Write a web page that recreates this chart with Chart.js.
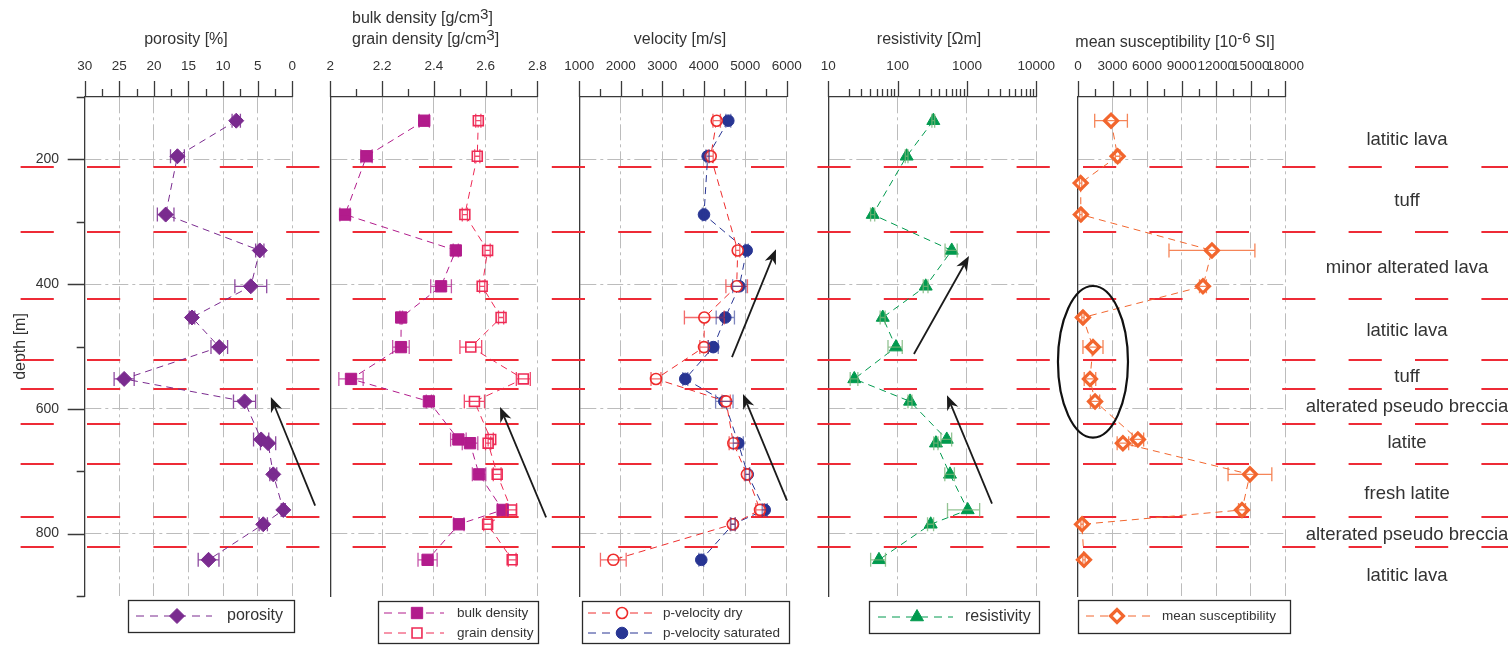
<!DOCTYPE html>
<html><head><meta charset="utf-8">
<script src="https://cdn.jsdelivr.net/npm/chart.js@4.4.0/dist/chart.umd.min.js"></script>
<style>
html,body{margin:0;padding:0;background:#fff;}
#wrap{position:relative;width:1508px;height:646px;overflow:hidden;background:#fff;}
#wrap canvas{position:absolute;left:0;top:0;}
</style></head><body>
<div id="wrap">
<canvas id="c1" width="1508" height="646"></canvas>
<canvas id="c2" width="1508" height="646"></canvas>
<canvas id="c3" width="1508" height="646"></canvas>
<canvas id="c4" width="1508" height="646"></canvas>
<canvas id="c5" width="1508" height="646"></canvas>
</div>
<script>
// ---------------- data ----------------
const depths          = [138, 195, 238, 288.5, 346, 403.5, 453.5, 501, 552, 588, 649, 655, 705, 762, 785, 842];
const porosity        = [8.1, 16.6, null, 18.3, 4.7, 6.0, 14.5, 10.55, 24.3, 6.9, 4.5, 3.5, 2.75, 1.3, 4.2, 12.1];
const porosityErr     = [0.6, 1.0, null, 1.2, 0.6, 2.3, 0.4, 1.2, 1.45, 1.6, 1.1, 1.1, 0.5, 0.3, 0.6, 1.5];
const bulkDensity     = [2.363, 2.14, null, 2.057, 2.485, 2.428, 2.274, 2.273, 2.08, 2.381, 2.495, 2.54, 2.575, 2.666, 2.497, 2.376];
const bulkDensityErr  = [0.02, 0.022, null, 0.02, 0.01, 0.04, 0.005, 0.032, 0.047, 0.01, 0.03, 0.03, 0.026, 0.02, 0.02, 0.037];
const grainDensity    = [2.572, 2.568, null, 2.52, 2.608, 2.587, 2.66, 2.543, 2.746, 2.557, 2.62, 2.61, 2.645, 2.70, 2.608, 2.703];
const grainDensityErr = [0.01, 0.01, null, 0.01, 0.01, 0.01, 0.01, 0.042, 0.027, 0.039, 0.01, 0.01, 0.015, 0.02, 0.015, 0.015];
const velocityDry     = [4312, 4168, null, null, 4819, 4794, 4014, 4006, 2849, 4540, null, 4713, 5040, 5357, 4700, 1820];
const velocityDryErr  = [90, 60, null, null, 50, 260, 480, 100, 120, 100, null, 100, 60, 100, 60, 310];
const velocitySat     = [4592, 4095, null, 4006, 5035, 4857, 4520, 4230, 3555, 4496, null, 4833, 5060, 5470, 4706, 3941];
const velocitySatErr  = [60, 40, null, 40, 40, 160, 220, 120, 60, 210, null, 120, 50, 60, 50, 60];
const resistivity     = [327, 135, null, 43.7, 603, 254, 61, 94.6, 23.7, 151, 511, 357, 569, 1024, 300, 53.8];
const resistivityErr  = [15, 6, null, 3, 120, 20, 5, 22, 3, 10, 90, 25, 90, 500, 30, 13];
const susceptibility    = [2870, 3440, 230, 250, 11630, 10850, 430, 1300, 1040, 1480, 5200, 3900, 14930, 14240, 350, 520];
const susceptibilityErr = [1420, 200, 100, 100, 3730, 300, 100, 870, 500, 400, 500, 500, 1900, 300, 100, 100];

const layerBoundaries = [213, 317, 424, 522, 568, 624, 688, 774, 821];
const lithology   = ['latitic lava', 'tuff', 'minor alterated lava', 'latitic lava', 'tuff',
                     'alterated pseudo breccia', 'latite', 'fresh latite', 'alterated pseudo breccia', 'latitic lava'];
const lithologyDepth = [168, 267, 374, 475, 549, 597, 654, 736, 802, 867];

const depthTicks = [200, 400, 600, 800];
const depthMinor = [100, 300, 500, 700, 900];
const porosityTicks = [0, 5, 10, 15, 20, 25, 30];
const porosityMinor = [2.5, 7.5, 12.5, 17.5, 22.5, 27.5];
const densityTicks = [2, 2.2, 2.4, 2.6, 2.8];
const densityMinor = [2.1, 2.3, 2.5, 2.7];
const velocityTicks = [1000, 2000, 3000, 4000, 5000, 6000];
const velocityMinor = [1500, 2500, 3500, 4500, 5500];
const resistivityTicks = [10, 100, 1000, 10000];
const resistivityMinor = [20, 30, 40, 50, 60, 70, 80, 90, 200, 300, 400, 500, 600, 700, 800, 900, 2000, 3000, 4000, 5000, 6000, 7000, 8000, 9000];
const susTicks = [0, 3000, 6000, 9000, 12000, 15000, 18000];
const susMinor = [1500, 4500, 7500, 10500, 13500, 16500];

// annotations in data coordinates (value, depth)
const arrows = [
  {panel: 0, v1: -3.3, d1: 755, v2: 3.1, d2: 581},
  {panel: 1, v1: 2.834, d1: 774, v2: 2.656, d2: 597},
  {panel: 2, v1: 4681, d1: 517, v2: 5742, d2: 344},
  {panel: 2, v1: 6007, d1: 747, v2: 4946, d2: 576},
  {panel: 3, v1: 172, d1: 512, v2: 1069, d2: 355},
  {panel: 3, v1: 2296, d1: 752, v2: 515, d2: 578}
];
const ellipse = {panel: 4, v1: -1740, v2: 4340, d1: 403, d2: 646};

// ---------------- style ----------------
const FONT = "'Liberation Sans', Arial, Helvetica, sans-serif";
Chart.defaults.font.family = FONT;
Chart.defaults.color = '#333';
const W = 1508, H = 646, TOP = 97, BOTTOM = 596;
const GRID = '#bcbcbc', AXIS = '#3a3a3a', GRID_DASH = [16, 4, 3, 4];
const RED = '#ee2b36';

function series(vals, errs) {
  const out = [];
  depths.forEach((d, i) => { if (vals[i] != null) out.push({x: vals[i], y: d, e: errs ? errs[i] : 0}); });
  return out;
}
function ds(label, vals, errs, color, opts) {
  return Object.assign({
    label, data: series(vals, errs), showLine: true, borderColor: color, backgroundColor: color,
    borderWidth: 1, borderDash: [7, 5], pointBackgroundColor: color, pointBorderColor: color,
    pointBorderWidth: 1, pointRadius: 7, pointHoverRadius: 7, pointStyle: 'circle', clip: false,
    errColor: color
  }, opts);
}

const PURPLE = '#7a2b8f', MAGENTA = '#b21c8c', PINK = '#ee2a55', VRED = '#ee2c2c', NAVY = '#283593', GREEN = '#009a4e', ORANGE = '#f2662e';

const panels = [
  { aL: 84.7, aR: 292.3, seg: [0, 320], showY: true,
    x: {type: 'linear', min: 0, max: 30, reverse: true, majors: porosityTicks, minors: porosityMinor, leftVal: 30},
    title: [{y: 40, x: 186, align: 'center', parts: [{t: 'porosity [%]'}]}],
    legend: {box: [128, 600, 294, 632], lx: [136, 212], mx: 177, tx: 227, rows: [616], font: 16},
    datasets: [ds('porosity', porosity, porosityErr, PURPLE, {pointStyle: 'rectRot', pointRadius: 7.5, errColor: 'rgba(122,43,143,0.85)'})]
  },
  { aL: 330.3, aR: 537.3, seg: [320, 558],
    x: {type: 'linear', min: 2, max: 2.8, reverse: false, majors: densityTicks, minors: densityMinor, leftVal: 2},
    title: [{y: 19, x: 352, align: 'left', parts: [{t: 'bulk density [g/cm'}, {t: '3', sup: true}, {t: ']'}]},
            {y: 40, x: 352, align: 'left', parts: [{t: 'grain density [g/cm'}, {t: '3', sup: true}, {t: ']'}]}],
    legend: {box: [378, 601, 538, 643], lx: [384, 444], mx: 417, tx: 457, rows: [613, 633], font: 13.5},
    datasets: [
      ds('bulk density', bulkDensity, bulkDensityErr, MAGENTA, {pointStyle: 'rect', pointRadius: 8, errColor: 'rgba(178,28,140,0.75)'}),
      ds('grain density', grainDensity, grainDensityErr, PINK, {pointStyle: 'rect', pointRadius: 7, pointBackgroundColor: '#fff', pointBorderWidth: 1.6, errColor: 'rgba(238,42,85,0.85)'})
    ]
  },
  { aL: 579.3, aR: 786.7, seg: [558, 808],
    x: {type: 'linear', min: 1000, max: 6000, reverse: false, majors: velocityTicks, minors: velocityMinor, leftVal: 1000},
    title: [{y: 40, x: 680, align: 'center', parts: [{t: 'velocity [m/s]'}]}],
    legend: {box: [582, 601, 789, 643], lx: [588, 655], mx: 622, tx: 663, rows: [613, 633], font: 13.5},
    datasets: [
      ds('p-velocity dry', velocityDry, velocityDryErr, VRED, {pointStyle: 'circle', pointRadius: 5.5, pointBackgroundColor: '#fff', pointBorderWidth: 1.6, errColor: 'rgba(238,44,44,0.7)'}),
      ds('p-velocity saturated', velocitySat, velocitySatErr, NAVY, {pointStyle: 'circle', pointRadius: 5.8, errColor: 'rgba(40,53,147,0.6)'})
    ]
  },
  { aL: 828.3, aR: 1036.3, seg: [808, 1050],
    x: {type: 'logarithmic', min: 10, max: 10000, reverse: false, majors: resistivityTicks, minors: resistivityMinor, leftVal: 10},
    title: [{y: 40, x: 929, align: 'center', parts: [{t: 'resistivity [\u03A9m]'}]}],
    legend: {box: [869, 601, 1039, 633], lx: [878, 953], mx: 917, tx: 965, rows: [617], font: 16},
    datasets: [ds('resistivity', resistivity, resistivityErr, GREEN, {pointStyle: 'triangle', pointRadius: 7.5, errColor: 'rgba(120,180,120,0.8)'})]
  },
  { aL: 1078, aR: 1285.3, seg: [1050, 1508], labels: true,
    x: {type: 'linear', min: 0, max: 18000, reverse: false, majors: susTicks, minors: susMinor, leftVal: 0},
    title: [{y: 43, x: 1175, align: 'center', parts: [{t: 'mean susceptibility [10'}, {t: '-6', sup: true}, {t: ' SI]'}]}],
    legend: {box: [1078, 600, 1290, 633], lx: [1086, 1150], mx: 1117, tx: 1162, rows: [616], font: 13.5},
    datasets: [ds('mean susceptibility', susceptibility, susceptibilityErr, ORANGE, {pointStyle: 'rectRot', pointRadius: 6.5, pointBackgroundColor: '#fff', pointBorderWidth: 3.2, errColor: 'rgba(242,102,46,0.8)'})]
  }
];

// ---------------- drawing helpers ----------------
function markerPath(ctx, style, x, y, r) {
  ctx.beginPath();
  if (style === 'rectRot') { ctx.moveTo(x - r, y); ctx.lineTo(x, y - r); ctx.lineTo(x + r, y); ctx.lineTo(x, y + r); ctx.closePath(); }
  else if (style === 'rect') { const s = Math.SQRT1_2 * r; ctx.rect(x - s, y - s, 2 * s, 2 * s); }
  else if (style === 'triangle') { ctx.moveTo(x, y - r); ctx.lineTo(x + 0.866 * r, y + 0.5 * r); ctx.lineTo(x - 0.866 * r, y + 0.5 * r); ctx.closePath(); }
  else ctx.arc(x, y, r, 0, Math.PI * 2);
}
function drawRich(ctx, parts, x, y, align, size) {
  ctx.save();
  ctx.fillStyle = '#333'; ctx.textBaseline = 'middle'; ctx.textAlign = 'left';
  let total = 0;
  parts.forEach(p => { ctx.font = (p.sup ? size * 0.95 : size) + 'px ' + FONT; p.w = ctx.measureText(p.t).width; total += p.w; });
  let cx = align === 'center' ? x - total / 2 : x;
  parts.forEach(p => { ctx.font = (p.sup ? size * 0.95 : size) + 'px ' + FONT; ctx.fillText(p.t, cx, p.sup ? y - 4 : y); cx += p.w; });
  ctx.restore();
}
function drawArrow(ctx, x1, y1, x2, y2) {
  ctx.save();
  ctx.strokeStyle = '#1b1b1b'; ctx.fillStyle = '#1b1b1b'; ctx.lineWidth = 1.8; ctx.setLineDash([]);
  const a = Math.atan2(y2 - y1, x2 - x1), L = 15, Wd = 6;
  const bx = x2 - L * Math.cos(a), by = y2 - L * Math.sin(a);
  const nx = x2 - L * 0.7 * Math.cos(a), ny = y2 - L * 0.7 * Math.sin(a);
  ctx.beginPath(); ctx.moveTo(x1, y1); ctx.lineTo(nx, ny); ctx.stroke();
  ctx.beginPath(); ctx.moveTo(x2, y2);
  ctx.lineTo(bx + Wd * Math.sin(a), by - Wd * Math.cos(a));
  ctx.lineTo(nx, ny);
  ctx.lineTo(bx - Wd * Math.sin(a), by + Wd * Math.cos(a));
  ctx.closePath(); ctx.fill();
  ctx.restore();
}

function panelPlugin(p, idx) {
  return {
    id: 'deco' + idx,
    beforeDatasetsDraw(chart) {
      const ctx = chart.ctx, ys = chart.scales.y;
      ctx.save();
      ctx.strokeStyle = RED; ctx.lineWidth = 2;
      ctx.setLineDash([33.2, 33.2]);
      ctx.lineDashOffset = p.seg[0] - 20.6;
      layerBoundaries.forEach(d => {
        const y = Math.round(ys.getPixelForValue(d));
        ctx.beginPath(); ctx.moveTo(p.seg[0], y); ctx.lineTo(p.seg[1], y); ctx.stroke();
      });
      ctx.restore();
    },
    afterDatasetsDraw(chart) {
      const ctx = chart.ctx, xs = chart.scales.x, ys = chart.scales.y;
      chart.data.datasets.forEach((d, di) => {
        const meta = chart.getDatasetMeta(di);
        ctx.save(); ctx.strokeStyle = d.errColor; ctx.lineWidth = 1.3; ctx.setLineDash([]);
        d.data.forEach((pt, j) => {
          if (!pt.e) return;
          const el = meta.data[j], y = el.y;
          let lo = pt.x - pt.e, hi = pt.x + pt.e;
          if (xs.type === 'logarithmic' && lo <= 0) lo = xs.min;
          const x1 = xs.getPixelForValue(lo), x2 = xs.getPixelForValue(hi);
          ctx.beginPath();
          ctx.moveTo(x1, y); ctx.lineTo(x2, y);
          ctx.moveTo(x1, y - 7); ctx.lineTo(x1, y + 7);
          ctx.moveTo(x2, y - 7); ctx.lineTo(x2, y + 7);
          ctx.stroke();
        });
        ctx.restore();
      });
      arrows.filter(a => a.panel === idx).forEach(a => {
        drawArrow(ctx, xs.getPixelForValue(a.v1), ys.getPixelForValue(a.d1), xs.getPixelForValue(a.v2), ys.getPixelForValue(a.d2));
      });
      if (ellipse.panel === idx) {
        const x1 = xs.getPixelForValue(ellipse.v1), x2 = xs.getPixelForValue(ellipse.v2);
        const y1 = ys.getPixelForValue(ellipse.d1), y2 = ys.getPixelForValue(ellipse.d2);
        ctx.save(); ctx.strokeStyle = '#111'; ctx.lineWidth = 2.2; ctx.setLineDash([]);
        ctx.beginPath(); ctx.ellipse((x1 + x2) / 2, (y1 + y2) / 2, Math.abs(x2 - x1) / 2, Math.abs(y2 - y1) / 2, 0, 0, Math.PI * 2); ctx.stroke();
        ctx.restore();
      }
    },
    afterDraw(chart) {
      const ctx = chart.ctx, xs = chart.scales.x, ys = chart.scales.y;
      ctx.save();
      ctx.strokeStyle = AXIS; ctx.lineWidth = 1.3; ctx.setLineDash([]);
      ctx.beginPath();
      p.x.majors.forEach(v => { const x = Math.round(xs.getPixelForValue(v)) + 0.5; ctx.moveTo(x, TOP - 16); ctx.lineTo(x, TOP); });
      p.x.minors.forEach(v => { const x = Math.round(xs.getPixelForValue(v)) + 0.5; ctx.moveTo(x, TOP - 8); ctx.lineTo(x, TOP); });
      if (p.showY) {
        const l = chart.chartArea.left;
        depthTicks.forEach(d => { const y = Math.round(ys.getPixelForValue(d)) + 0.5; ctx.moveTo(l - 17, y); ctx.lineTo(l, y); });
        depthMinor.forEach(d => { const y = Math.round(ys.getPixelForValue(d)) + 0.5; ctx.moveTo(l - 8, y); ctx.lineTo(l, y); });
      }
      ctx.stroke();
      ctx.restore();
      p.title.forEach(t => drawRich(ctx, t.parts, t.x, t.y, t.align, 16));
      const L = p.legend;
      ctx.save();
      ctx.strokeStyle = '#2a2a2a'; ctx.lineWidth = 1.3; ctx.setLineDash([]);
      ctx.strokeRect(L.box[0] + 0.5, L.box[1] + 0.5, L.box[2] - L.box[0], L.box[3] - L.box[1]);
      chart.data.datasets.forEach((d, i) => {
        const y = L.rows[i];
        ctx.save();
        ctx.strokeStyle = d.borderColor; ctx.lineWidth = 1; ctx.setLineDash([8, 6]);
        ctx.beginPath(); ctx.moveTo(L.lx[0], y); ctx.lineTo(L.lx[1], y); ctx.stroke();
        ctx.setLineDash([]);
        markerPath(ctx, d.pointStyle, L.mx, y, d.pointRadius);
        ctx.fillStyle = d.pointBackgroundColor; ctx.fill();
        ctx.strokeStyle = d.pointBorderColor; ctx.lineWidth = d.pointBorderWidth; ctx.stroke();
        ctx.restore();
        ctx.fillStyle = '#333'; ctx.font = L.font + 'px ' + FONT; ctx.textBaseline = 'middle'; ctx.textAlign = 'left';
        ctx.fillText(d.label, L.tx, y);
      });
      ctx.restore();
      if (p.labels) {
        ctx.save();
        ctx.fillStyle = '#333'; ctx.font = '18.5px ' + FONT; ctx.textAlign = 'center'; ctx.textBaseline = 'middle';
        lithology.forEach((t, i) => ctx.fillText(t, 1407, ys.getPixelForValue(lithologyDepth[i])));
        ctx.restore();
      }
    }
  };
}

panels.forEach((p, idx) => {
  const canvas = document.getElementById('c' + (idx + 1));
  new Chart(canvas, {
    type: 'scatter',
    data: {datasets: p.datasets},
    options: {
      responsive: false, animation: false, devicePixelRatio: 1, events: [],
      layout: {autoPadding: false, padding: {left: p.showY ? 0 : p.aL, right: W - p.aR, top: 0, bottom: H - BOTTOM}},
      plugins: {legend: {display: false}, tooltip: {enabled: false}, title: {display: false}},
      scales: {
        x: {
          type: p.x.type, position: 'top', min: p.x.min, max: p.x.max, reverse: p.x.reverse,
          afterBuildTicks: s => { s.ticks = p.x.majors.map(v => ({value: v})); },
          afterFit: s => { s.height = TOP; },
          ticks: {autoSkip: false, maxRotation: 0, minRotation: 0, padding: 22.9, font: {size: 13.5}, color: '#333', callback: v => String(v)},
          grid: {drawTicks: false, drawOnChartArea: true, lineWidth: 1,
                 color: c => (c.tick && c.tick.value === p.x.leftVal) ? 'rgba(0,0,0,0)' : GRID},
          border: {display: true, color: AXIS, width: 1.3, dash: GRID_DASH}
        },
        y: {
          type: 'linear', position: 'left', min: 100, max: 900, reverse: true,
          afterBuildTicks: s => { s.ticks = depthTicks.map(v => ({value: v})); },
          afterFit: s => { s.width = p.showY ? p.aL : 0; },
          ticks: {display: !!p.showY, padding: 25.7, font: {size: 14}, color: '#333', callback: v => String(v)},
          title: {display: !!p.showY, text: 'depth [m]', font: {size: 16}, color: '#333', padding: {top: 11.4, bottom: 0}},
          grid: {drawTicks: false, lineWidth: 1, color: GRID},
          border: {display: true, color: AXIS, width: 1.3, dash: GRID_DASH}
        }
      }
    },
    plugins: [panelPlugin(p, idx)]
  });
});
</script>
</body></html>
